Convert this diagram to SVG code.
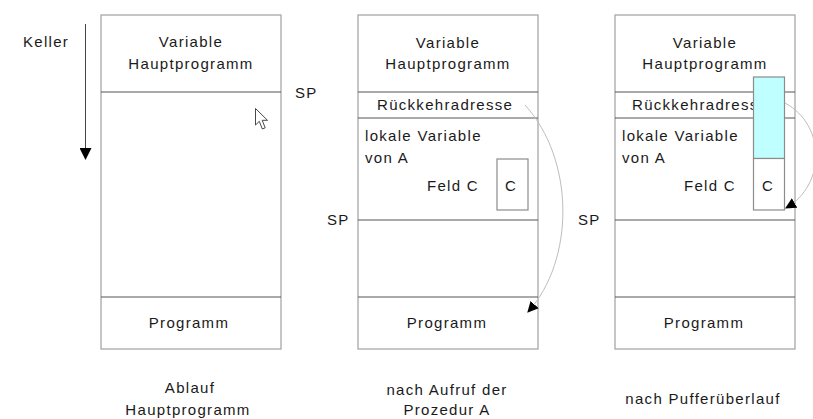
<svg xmlns="http://www.w3.org/2000/svg" width="813" height="419" viewBox="0 0 813 419">
  <style>
    text { font-family: "Liberation Sans", Arial, sans-serif; font-size: 15px; fill: #1a1a1a; letter-spacing: 1.3px; }
    .mid { text-anchor: middle; }
    .frame { fill: #ffffff; stroke: #a0a0a0; stroke-width: 1.2; }
    .div { stroke: #555555; stroke-width: 1; fill: none; }
    .cell { fill: #ffffff; stroke: #8c8c8c; stroke-width: 1.2; }
    .flow { fill: none; stroke: #bdbdbd; stroke-width: 1; }
  </style>
  <defs>
    <marker id="head" viewBox="0 0 10 10" refX="9" refY="5" markerWidth="11" markerHeight="11" markerUnits="userSpaceOnUse" orient="auto">
      <path d="M0,0 L10,5 L0,10 Z" fill="#000000"/>
    </marker>
    <marker id="down" viewBox="0 0 12 12" refX="11" refY="6" markerWidth="12" markerHeight="12" markerUnits="userSpaceOnUse" orient="auto">
      <path d="M0,0 L12,6 L0,12 Z" fill="#000000"/>
    </marker>
  </defs>

  <!-- stack growth direction -->
  <g id="keller">
    <text x="23" y="46.5">Keller</text>
    <line x1="85.5" y1="24" x2="85.5" y2="159" stroke="#444444" stroke-width="1" marker-end="url(#down)"/>
  </g>

  <!-- stack 1: main program running -->
  <g id="stack-main">
    <rect class="frame" x="101" y="15" width="180" height="334"/>
    <line class="div" x1="101" y1="92" x2="281" y2="92"/>
    <line class="div" x1="101" y1="297" x2="281" y2="297"/>
    <text class="mid" x="191" y="47">Variable</text>
    <text class="mid" x="191" y="69">Hauptprogramm</text>
    <text class="mid" x="189" y="328">Programm</text>
    <text x="295" y="98">SP</text>
    <!-- mouse pointer -->
    <path d="M255.5,108.5 L255.5,125 L259.3,121.3 L262.3,129 L265.2,127.8 L262.2,120.3 L267.5,120.3 Z" fill="#ffffff" stroke="#333333" stroke-width="0.9" stroke-linejoin="round"/>
    <text class="mid" x="190" y="393">Ablauf</text>
    <text class="mid" x="188" y="415">Hauptprogramm</text>
  </g>

  <!-- stack 2: after calling procedure A -->
  <g id="stack-call">
    <rect class="frame" x="358" y="15" width="180" height="334"/>
    <line class="div" x1="358" y1="92" x2="538" y2="92"/>
    <line class="div" x1="358" y1="118" x2="538" y2="118"/>
    <line class="div" x1="358" y1="220" x2="538" y2="220"/>
    <line class="div" x1="358" y1="297" x2="538" y2="297"/>
    <text class="mid" x="448" y="48">Variable</text>
    <text class="mid" x="448" y="69">Hauptprogramm</text>
    <text x="377" y="110">Rückkehradresse</text>
    <text x="365" y="141">lokale Variable</text>
    <text x="365" y="163">von A</text>
    <text x="427" y="191">Feld C</text>
    <rect class="cell" x="497" y="159" width="31" height="51"/>
    <text x="505" y="191">C</text>
    <text x="327" y="225">SP</text>
    <text class="mid" x="447" y="328">Programm</text>
    <text class="mid" x="447" y="395">nach Aufruf der</text>
    <text class="mid" x="447" y="415">Prozedur A</text>
  </g>

  <!-- stack 3: after buffer overflow -->
  <g id="stack-overflow">
    <rect class="frame" x="615" y="15" width="180" height="334"/>
    <line class="div" x1="615" y1="92" x2="795" y2="92"/>
    <line class="div" x1="615" y1="118" x2="795" y2="118"/>
    <line class="div" x1="615" y1="220" x2="795" y2="220"/>
    <line class="div" x1="615" y1="297" x2="795" y2="297"/>
    <text class="mid" x="705" y="48">Variable</text>
    <text class="mid" x="705" y="69">Hauptprogramm</text>
    <text x="632" y="110">Rückkehradresse</text>
    <text x="622" y="141">lokale Variable</text>
    <text x="622" y="163">von A</text>
    <text x="684" y="191">Feld C</text>
    <rect x="753.5" y="77" width="31" height="81.5" fill="#bfffff" stroke="#8c8c8c" stroke-width="1.2"/>
    <rect class="cell" x="753.5" y="158.5" width="31" height="51.5"/>
    <text x="762" y="191">C</text>
    <text x="578" y="225">SP</text>
    <text class="mid" x="704" y="328">Programm</text>
    <text class="mid" x="703" y="404">nach Pufferüberlauf</text>
  </g>

  <!-- return jumps -->
  <g id="connectors">
    <path class="flow" d="M525,105 C575,160 575,260 528,312" marker-end="url(#head)"/>
    <path class="flow" d="M785,103 C826,125 826,185 786,208" marker-end="url(#head)"/>
  </g>
</svg>
